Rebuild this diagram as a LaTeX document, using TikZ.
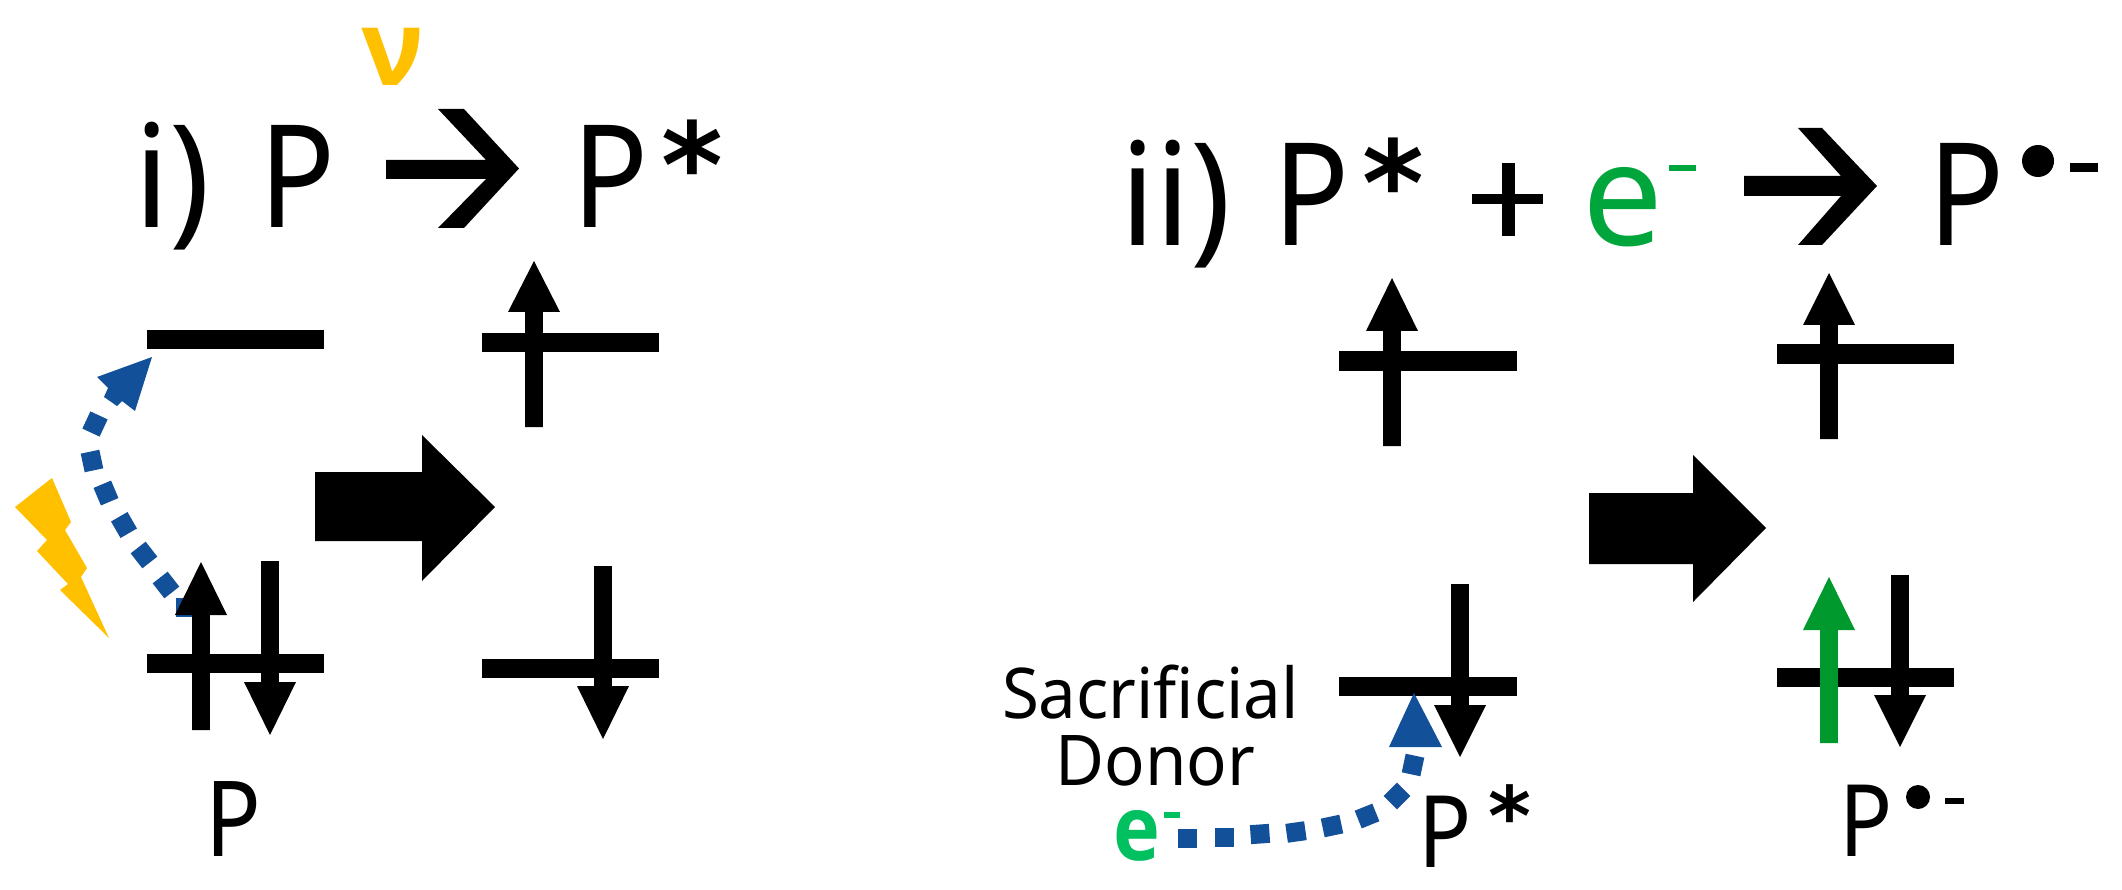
\documentclass[tikz,border=0pt]{standalone}
\usepackage{fontspec}
\setmainfont{Noto Sans}
\newfontfamily\starfont{DejaVu Sans}
\newfontfamily\heavyfont{Open Sans}
\definecolor{bluedot}{HTML}{12509A}
\definecolor{boltyellow}{HTML}{FFC000}
\definecolor{eletop}{HTML}{00A53C}
\definecolor{elelow}{HTML}{00C060}
\definecolor{uparrow}{HTML}{00992E}
\tikzset{
  x=1pt,y=-1pt,
  level/.style={line width=19pt},
  big/.style={font=\fontsize{143}{143}\selectfont,inner sep=0,anchor=base west,xscale=.88},
  mid/.style={font=\fontsize{100}{100}\selectfont,inner sep=0,anchor=base west,xscale=.88},
  sm/.style={font=\fontsize{70}{78}\selectfont,inner sep=0,anchor=base,xscale=.96},
  starbig/.style={font=\starfont\bfseries\fontsize{118}{118}\selectfont,inner sep=0,anchor=base west},
  starmid/.style={font=\starfont\bfseries\fontsize{82}{82}\selectfont,inner sep=0,anchor=base west}
}
\newcommand{\upel}[5][black]{%
  \fill[#1] (#2-8.8,#3) -- (#2-8.8,#5) -- (#2-26,#5) -- (#2,#4) -- (#2+26,#5) -- (#2+8.8,#5) -- (#2+8.8,#3) -- cycle;}
\newcommand{\downel}[4]{%
  \fill (#1-8.8,#2) -- (#1+8.8,#2) -- (#1+8.8,#4) -- (#1+26,#4) -- (#1,#3) -- (#1-26,#4) -- (#1-8.8,#4) -- cycle;}
\newcommand{\dotsq}[3]{%
  \fill[bluedot,rotate around={#3:(#1,#2)}] (#1-9.5,#2-9.5) rectangle (#1+9.5,#2+9.5);}
\begin{document}
\begin{tikzpicture}
\useasboundingbox (0,0) rectangle (2122,890);
\fill[white] (0,0) rectangle (2122,890);
% --- panel i
\node[inner sep=0,anchor=base,boltyellow,font=\heavyfont\bfseries\fontsize{105}{105}\selectfont] (nu) at (393,86) {ν};
\node[big,xscale=1.08] (ia) at (134,228) {i)};
\node[big] (ib) at (259.5,228) {P};
\node[big] (ic) at (572,228) {P};
\node[starbig] (id) at (661,207.7) {*};
\fill (386,160) -- (486,160) -- (438,109) -- (464,109) -- (519,168.5) -- (464,228) -- (438,228) -- (486,179) -- (386,179) -- cycle;
% levels
\coordinate (l1a) at (147,340); \coordinate (l1b) at (324,340);
\coordinate (l2a) at (147,663); \coordinate (l2b) at (324,663);
\coordinate (l3a) at (482,343); \coordinate (l3b) at (659,343);
\coordinate (l4a) at (482,668); \coordinate (l4b) at (659,668);
% excitation dots, behind the electron arrow
\dotsq{185}{607}{0}
\dotsq{166}{585}{38}
\dotsq{144}{555}{38}
\dotsq{124}{525}{30}
\dotsq{106}{493}{23}
\dotsq{92}{461}{12}
\dotsq{95}{424}{-25}
\fill[bluedot] (152,357) -- (97,377) -- (108,388) -- (104,397) -- (117,406) -- (122,401) -- (135,411) -- cycle;
\draw[level] (l1a) -- (l1b);
\draw[level] (l2a) -- (l2b);
\draw[level] (l3a) -- (l3b);
\draw[level] (l4a) -- (l4b);
\upel{534}{427}{261}{312}
\upel{201}{730}{562}{615}
\downel{270}{561}{735}{682}
\downel{603}{566}{739}{686}
% big arrow
\fill (315,472) -- (422,472) -- (422,435) -- (495,507) -- (422,581) -- (422,541) -- (315,541) -- cycle;
% bolt
\fill[boltyellow] (15,507) -- (52,478) -- (71,522) -- (65,530) -- (87,568) -- (81,577) -- (109,638) -- (60,590) -- (68,584) -- (37,551) -- (47,540) -- cycle;
\node[big,font=\fontsize{105}{105}\selectfont] (ip) at (205,856) {P};
% --- panel ii
\node[big,xscale=1.08] (iia) at (1120,246) {ii)};
\node[big] (iib) at (1273,246) {P};
\node[starbig] (iic) at (1362,226) {*};
\fill (1472,194) rectangle (1543,204);
\fill (1501.5,163) rectangle (1514.5,236);
\node[big,eletop,xscale=1.14] (iid) at (1582,246) {e};
\fill[eletop] (1669,165) rectangle (1696,171);
\fill (1744,176) -- (1841,176) -- (1798,128) -- (1822,128) -- (1877,186) -- (1822,245) -- (1798,245) -- (1841,196) -- (1744,196) -- cycle;
\node[big] (iie) at (1928,246) {P};
\fill (2038,161) circle (16);
\fill (2070,163.5) rectangle (2098,172.5);
% levels
\coordinate (m1a) at (1339,361); \coordinate (m1b) at (1517,361);
\coordinate (m2a) at (1339,686); \coordinate (m2b) at (1517,686);
\coordinate (m3a) at (1777,354); \coordinate (m3b) at (1954,354);
\coordinate (m4a) at (1777,677); \coordinate (m4b) at (1954,677);
\draw[level] (m1a) -- (m1b);
\draw[level] (m2a) -- (m2b);
\draw[level] (m3a) -- (m3b);
\draw[level] (m4a) -- (m4b);
\upel{1392}{446}{278}{331}
\upel{1829}{439}{273}{325}
\upel[uparrow]{1829}{743}{577}{630}
\downel{1460}{584}{757}{705}
\downel{1900}{575}{747}{695}
\fill (1589,493) -- (1693,493) -- (1693,455) -- (1766,528) -- (1693,602) -- (1693,564) -- (1589,564) -- cycle;
% donor
\node[sm] (don1) at (1150.5,718) {Sacrificial};
\node[sm] (don2) at (1155.5,785) {Donor};
\node[inner sep=0,anchor=base west,elelow,font=\heavyfont\bfseries\fontsize{90}{90}\selectfont,xscale=.88] (edon) at (1113,860) {e};
\fill[elelow] (1164,812) rectangle (1180,818);
\fill[bluedot] (1414,693) -- (1442,747) -- (1389,747) -- cycle;
\dotsq{1413}{765}{-12}
\dotsq{1397}{796}{45}
\dotsq{1367}{816}{22}
\dotsq{1332}{826}{12}
\dotsq{1296}{832}{8}
\dotsq{1260}{834}{4}
\dotsq{1224}{837}{0}
\dotsq{1187}{838}{0}
\node[mid] (pstar) at (1418,867) {P};
\node[starmid] (pstarb) at (1488,845) {*};
\node[mid] (prad) at (1839,856) {P};
\fill (1918,797) circle (12);
\fill (1945,798) rectangle (1964,804);
\end{tikzpicture}
\end{document}
